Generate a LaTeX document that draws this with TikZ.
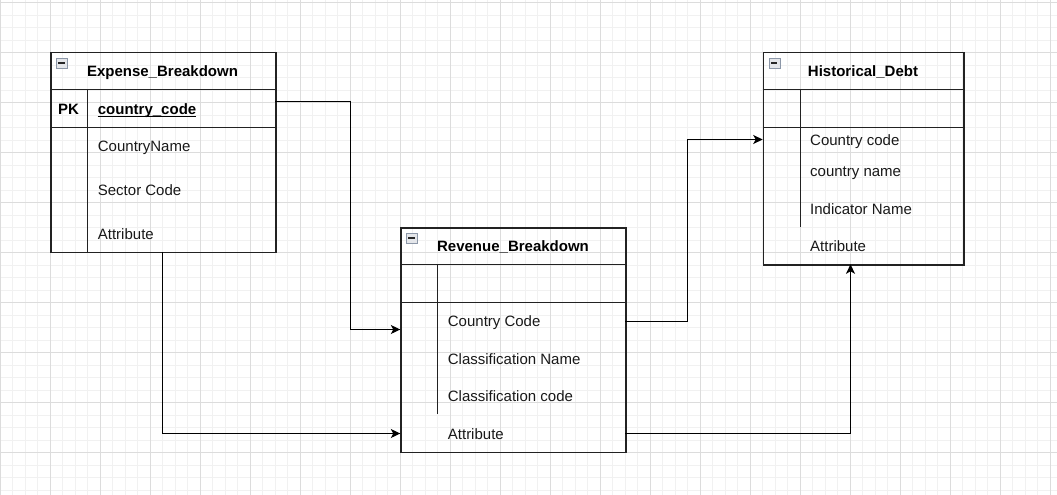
\documentclass[tikz,border=0pt]{standalone}
\usepackage{fontspec}
\setmainfont{Liberation Sans}
\usetikzlibrary{arrows.meta}
\definecolor{gridminor}{HTML}{F1F1F1}
\definecolor{gridmajor}{HTML}{DCDCDC}
\definecolor{boxline}{HTML}{222222}
\definecolor{iconborder}{HTML}{8C97A8}
\definecolor{iconfill}{HTML}{E4E6EA}
\tikzset{
  tablebox/.style={draw=boxline, line width=1.2pt, inner sep=0pt, anchor=north west},
  sep/.style={draw=boxline, line width=1.2pt},
  title/.style={font=\fontsize{15pt}{18pt}\selectfont\bfseries, inner sep=0pt, anchor=base},
  field/.style={font=\fontsize{15pt}{18pt}\selectfont, inner sep=0pt, anchor=base west, text=black!90},
  keyfield/.style={font=\fontsize{15pt}{18pt}\selectfont\bfseries, inner sep=0pt, anchor=base west},
  conn/.style={draw=black, line width=1.1pt, -{Stealth[length=9.5pt,width=9pt,inset=2.5pt]}},
  iconbox/.style={draw=iconborder, fill=iconfill, line width=0.7pt, minimum width=10.5pt, minimum height=10.5pt, inner sep=0pt, anchor=north west},
  iconbar/.style={draw=black!85, line width=1.1pt},
}
\begin{document}
\begin{tikzpicture}[x=1pt,y=-1pt]
\fill[white] (0,0) rectangle (1057,495);
\useasboundingbox (0,0) rectangle (1057,495);
% grid
\foreach \i in {0,...,84} \draw[gridminor, line width=0.8pt] (\i*12.5+0.3,0) -- (\i*12.5+0.3,495);
\foreach \j in {0,...,39} \draw[gridminor, line width=0.8pt] (0,\j*12.5+2.5) -- (1057,\j*12.5+2.5);
\foreach \i in {0,...,21} \draw[gridmajor, line width=0.8pt] (\i*50+0.3,0) -- (\i*50+0.3,495);
\foreach \j in {0,...,9} \draw[gridmajor, line width=0.8pt] (0,\j*50+2.5) -- (1057,\j*50+2.5);

% ---------- Expense_Breakdown ----------
\node[tablebox, minimum width=225pt, minimum height=199.7pt] (exp) at (50.3,52.3) {};
\draw[sep] (50.3,89.7) -- (275.3,89.7);
\draw[sep] (50.3,127.3) -- (275.3,127.3);
\draw[sep] (87.7,89.7) -- (87.7,252);
\node[iconbox] (expicon) at (56.3,57.7) {};
\draw[iconbar] (58.3,63) -- (64.7,63);
\node[title] (exptitle) at (162.5,76) {Expense\_Breakdown};
\node[keyfield] (exppk) at (58,114) {PK};
\node[keyfield] (expkey) at (97.7,114) {country\_code};
\draw[line width=1pt] ([yshift=-2.2pt]expkey.base west) -- ([yshift=-2.2pt]expkey.base east);
\node[field] (expf1) at (97.7,151.7) {CountryName};
\node[field] (expf2) at (97.7,195) {Sector Code};
\node[field] (expf3) at (97.7,239) {Attribute};

% ---------- Revenue_Breakdown ----------
\node[tablebox, minimum width=225pt, minimum height=224.7pt] (rev) at (400.3,227.3) {};
\draw[sep] (400.3,264.7) -- (625.3,264.7);
\draw[sep] (400.3,302.3) -- (625.3,302.3);
\draw[sep] (437.7,264.7) -- (437.7,414.3);
\node[iconbox] (revicon) at (406.3,232.7) {};
\draw[iconbar] (408.3,238) -- (414.7,238);
\node[title] (revtitle) at (513,251) {Revenue\_Breakdown};
\node[field] (revf1) at (447.7,326) {Country Code};
\node[field] (revf2) at (447.7,364) {Classification Name};
\node[field] (revf3) at (447.7,401) {Classification code};
\node[field] (revf4) at (447.7,439) {Attribute};

% ---------- Historical_Debt ----------
\node[tablebox, minimum width=200.6pt, minimum height=212pt] (hist) at (762.7,52.3) {};
\draw[sep] (762.7,89.7) -- (963.3,89.7);
\draw[sep] (762.7,127.3) -- (963.3,127.3);
\draw[sep] (800.3,89.7) -- (800.3,226.7);
\node[iconbox] (histicon) at (769,57.7) {};
\draw[iconbar] (771,63) -- (777.4,63);
\node[title] (histtitle) at (863,76) {Historical\_Debt};
\node[field] (histf1) at (810,145.3) {Country code};
\node[field] (histf2) at (810,176) {country name};
\node[field] (histf3) at (810,214.3) {Indicator Name};
\node[field] (histf4) at (810,251) {Attribute};

% ---------- connector end points ----------
\coordinate (c1s) at (275.3,101.5);
\coordinate (c1e) at (400.3,329.5);
\coordinate (c2s) at (162.5,252);
\coordinate (c2e) at (400.3,433.5);
\coordinate (c3s) at (625.3,321.5);
\coordinate (c3e) at (762.7,139.5);
\coordinate (c4s) at (625.3,433.5);
\coordinate (c4e) at (850.5,264.3);

\draw[conn] (c1s) -- (350.5,101.5) |- (c1e);
\draw[conn] (c2s) |- (c2e);
\draw[conn] (c3s) -- (687.5,321.5) |- (c3e);
\draw[conn] (c4s) -| (c4e);
\end{tikzpicture}
\end{document}
